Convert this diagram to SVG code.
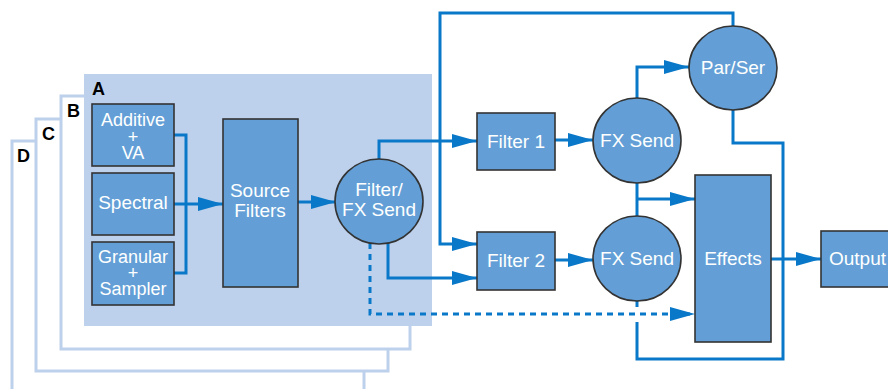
<svg xmlns="http://www.w3.org/2000/svg" width="888" height="389" viewBox="0 0 888 389">
<defs>
<marker id="ah" markerUnits="userSpaceOnUse" markerWidth="26" markerHeight="16" refX="25" refY="7" orient="auto">
<path d="M0,0 L25,7 L0,14 Z" fill="#0a78c8"/>
</marker>
<style>
.layer{fill:#ffffff;stroke:#bdd1ec;stroke-width:3}
.node{fill:#639fd6;stroke:#333;stroke-width:1.6}
.t{font-family:"Liberation Sans",Arial,sans-serif;font-size:19px;fill:#fff;text-anchor:middle}
.s{font-size:18px}
.lbl{font-family:"Liberation Sans",Arial,sans-serif;font-size:18px;font-weight:bold;fill:#000}
.c{fill:none;stroke:#0a78c8;stroke-width:3}
.a{marker-end:url(#ah)}
.d{stroke-dasharray:6 5}
</style>
</defs>
<rect width="888" height="389" fill="#fff"/>
<g id="layers">
<rect class="layer" x="12" y="141" width="352" height="270"/>
<rect class="layer" x="36" y="119" width="352" height="252"/>
<rect class="layer" x="61" y="96" width="349" height="253"/>
<rect x="84" y="74" width="348" height="252" fill="#bdd1ec"/>
<text class="lbl" x="92" y="95">A</text>
<text class="lbl" x="67" y="117">B</text>
<text class="lbl" x="42" y="140">C</text>
<text class="lbl" x="17" y="162">D</text>
</g>
<g id="connectors">
<path class="c" d="M174,135 H186 V273 H174"/>
<path class="c a" d="M174,204 H223"/>
<path class="c a" d="M298,202 H336"/>
<path class="c a" d="M379,159 V141 H477"/>
<path class="c a" d="M388,243 V278 H477"/>
<path class="c a" d="M733,26 V13 H440 V244 H477"/>
<path class="c a" d="M555,140 H593"/>
<path class="c a" d="M555,260 H593"/>
<path class="c a" d="M637,98 V67 H689"/>
<path class="c" d="M637,183 V216"/>
<path class="c a" d="M637,199 H695"/>
<path class="c" d="M733,110 V143 H783 V359 H637 V322"/>
<path class="c" d="M637,300 V307"/>
<path class="c a" d="M771,259 H821"/>
<path class="c d a" d="M370,243 V314 H695"/>
</g>
<g id="additive">
<rect class="node" x="92" y="104" width="82" height="62"/>
<text class="t s" x="133" y="126">Additive</text>
<text class="t s" x="133" y="143">+</text>
<text class="t s" x="133" y="159">VA</text>
</g>
<g id="spectral">
<rect class="node" x="92" y="173" width="82" height="62"/>
<text class="t" x="133" y="209">Spectral</text>
</g>
<g id="granular">
<rect class="node" x="92" y="242" width="82" height="63"/>
<text class="t s" x="133" y="263">Granular</text>
<text class="t s" x="133" y="279">+</text>
<text class="t s" x="133" y="295">Sampler</text>
</g>
<g id="source-filters">
<rect class="node" x="223" y="119" width="75" height="168"/>
<text class="t" x="260" y="197">Source</text>
<text class="t" x="260" y="217">Filters</text>
</g>
<g id="filter-fx-send">
<ellipse class="node" cx="379" cy="201.5" rx="44" ry="42.5"/>
<text class="t" x="379" y="196">Filter/</text>
<text class="t" x="379" y="216">FX Send</text>
</g>
<g id="filter1">
<rect class="node" x="477" y="113" width="78" height="57"/>
<text class="t" x="516" y="148">Filter 1</text>
</g>
<g id="filter2">
<rect class="node" x="477" y="232" width="78" height="58"/>
<text class="t" x="516" y="267">Filter 2</text>
</g>
<g id="fx-send1">
<ellipse class="node" cx="637" cy="140.5" rx="44" ry="42.5"/>
<text class="t" x="637" y="147">FX Send</text>
</g>
<g id="fx-send2">
<ellipse class="node" cx="637" cy="258.5" rx="44" ry="42.5"/>
<text class="t" x="637" y="265">FX Send</text>
</g>
<g id="par-ser">
<ellipse class="node" cx="733" cy="68" rx="44" ry="42"/>
<text class="t" x="733" y="74">Par/Ser</text>
</g>
<g id="effects">
<rect class="node" x="695" y="175" width="76" height="167"/>
<text class="t" x="733" y="265">Effects</text>
</g>
<g id="output">
<rect class="node" x="821" y="231" width="80" height="56"/>
<text class="t" x="829" y="265" style="text-anchor:start">Output</text>
</g>
</svg>
